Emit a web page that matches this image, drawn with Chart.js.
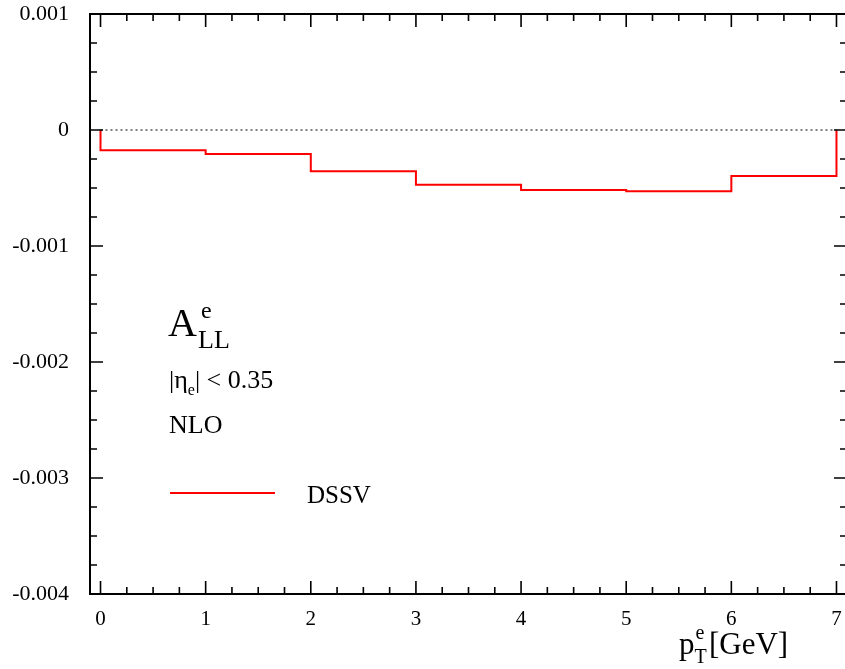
<!doctype html>
<html>
<head>
  <meta charset="utf-8">
  <title>A_LL^e vs pT</title>
  <style>
    html, body { margin:0; padding:0; background:#fff; overflow:hidden; }
    canvas { display:block; }
  </style>
  <script src="https://cdn.jsdelivr.net/npm/chart.js"></script>
</head>
<body>
  <canvas id="allChart" width="848" height="669"></canvas>

  <script>
    // bin edges in pT (GeV) and the DSSV asymmetry per bin
    const binEdges = [0, 1, 2, 3, 4, 5, 6, 7];
    const dssvValues = [-0.000175, -0.000207, -0.000356, -0.000471, -0.000517, -0.000528, -0.000397];
    const xTicks = [0, 1, 2, 3, 4, 5, 6, 7];
    const yTicks = [0.001, 0, -0.001, -0.002, -0.003, -0.004];

    const serif = '"Liberation Serif", "DejaVu Serif", serif';

    // histogram outline: start and end on zero, flat across each bin
    const stepPoints = [{ x: binEdges[0], y: 0 }];
    dssvValues.forEach((v, i) => stepPoints.push({ x: binEdges[i], y: v }));
    stepPoints.push({ x: binEdges[binEdges.length - 1], y: dssvValues[dssvValues.length - 1] });
    stepPoints.push({ x: binEdges[binEdges.length - 1], y: 0 });

    // frame, inward ticks on all four sides, and the text labels
    const framePlugin = {
      id: 'frame',
      afterDraw(chart) {
        const { ctx, chartArea: a, scales: { x, y } } = chart;
        ctx.save();
        ctx.strokeStyle = '#000';
        ctx.lineWidth = 2;
        ctx.beginPath();
        ctx.moveTo(a.right, a.top); ctx.lineTo(a.left, a.top);
        ctx.lineTo(a.left, a.bottom); ctx.lineTo(a.right, a.bottom);
        ctx.stroke();

        ctx.lineWidth = 1.6;
        ctx.beginPath();
        for (let i = 0; i <= 28; i++) {
          const px = x.getPixelForValue(i * 0.25);
          const len = i % 4 === 0 ? 13 : 7;
          ctx.moveTo(px, a.bottom); ctx.lineTo(px, a.bottom - len);
          ctx.moveTo(px, a.top); ctx.lineTo(px, a.top + len);
        }
        for (let i = 0; i <= 20; i++) {
          const py = y.getPixelForValue(-0.004 + i * 0.00025);
          const len = i % 4 === 0 ? 13 : 7;
          ctx.moveTo(a.left, py); ctx.lineTo(a.left + len, py);
          ctx.moveTo(a.right, py); ctx.lineTo(a.right - len, py);
        }
        ctx.stroke();

        ctx.fillStyle = '#000';
        ctx.textBaseline = 'alphabetic';
        ctx.textAlign = 'left';

        // A_LL^e
        ctx.font = '40px ' + serif;
        ctx.fillText('A', 168, 336);
        ctx.font = '26px ' + serif;
        ctx.fillText('LL', 198, 348);
        ctx.font = '24px ' + serif;
        ctx.fillText('e', 201, 318);

        // |eta_e| < 0.35
        ctx.font = '26px ' + serif;
        ctx.fillText('|\u03b7', 169, 388);
        const w = ctx.measureText('|\u03b7').width;
        ctx.font = '16px ' + serif;
        ctx.fillText('e', 169 + w, 395);
        const w2 = ctx.measureText('e').width;
        ctx.font = '26px ' + serif;
        ctx.fillText('| < 0.35', 169 + w + w2, 388);

        ctx.fillText('NLO', 169, 433);

        // legend
        ctx.strokeStyle = '#ff0000';
        ctx.lineWidth = 2;
        ctx.beginPath();
        ctx.moveTo(170, 493); ctx.lineTo(275, 493);
        ctx.stroke();
        ctx.font = '25px ' + serif;
        ctx.fillText('DSSV', 307, 503);

        // axis title p_T^e [GeV]
        ctx.font = '31px ' + serif;
        ctx.fillText('p', 679, 654);
        const pw = ctx.measureText('p').width;
        ctx.font = '20px ' + serif;
        ctx.fillText('e', 680 + pw, 639);
        ctx.fillText('T', 679 + pw, 663);
        ctx.font = '31px ' + serif;
        ctx.fillText('[GeV]', 709, 654);
        ctx.restore();
      }
    };

    new Chart(document.getElementById('allChart'), {
      type: 'line',
      data: {
        datasets: [
          {
            label: 'zero',
            data: [{ x: 0, y: 0 }, { x: 7, y: 0 }],
            borderColor: '#000',
            borderWidth: 1.2,
            borderDash: [2, 3],
            pointRadius: 0
          },
          {
            label: 'DSSV',
            data: stepPoints,
            stepped: 'before',
            borderColor: '#ff0000',
            borderWidth: 2,
            pointRadius: 0
          }
        ]
      },
      options: {
        responsive: false,
        animation: false,
        layout: { padding: { top: 14, right: 1, left: 0, bottom: 0 } },
        plugins: { legend: { display: false }, tooltip: { enabled: false } },
        scales: {
          x: {
            type: 'linear',
            min: -0.1,
            max: 7.1,
            afterFit: s => { s.height = 75; s.paddingLeft = 0; s.paddingRight = 0; },
            afterBuildTicks: s => { s.ticks = xTicks.map(v => ({ value: v })); },
            grid: { display: false, drawTicks: false },
            border: { display: false },
            ticks: {
              padding: 13,
              color: '#000',
              font: { family: serif, size: 21 },
              maxRotation: 0
            }
          },
          y: {
            type: 'linear',
            min: -0.004,
            max: 0.001,
            afterFit: s => { s.width = 90; s.paddingTop = 0; s.paddingBottom = 0; },
            afterBuildTicks: s => { s.ticks = yTicks.map(v => ({ value: v })); },
            grid: { display: false, drawTicks: false },
            border: { display: false },
            ticks: {
              padding: 21,
              color: '#000',
              font: { family: serif, size: 22 },
              callback: v => v === 0 ? '0' : v.toFixed(3)
            }
          }
        }
      },
      plugins: [framePlugin]
    });
  </script>
</body>
</html>
